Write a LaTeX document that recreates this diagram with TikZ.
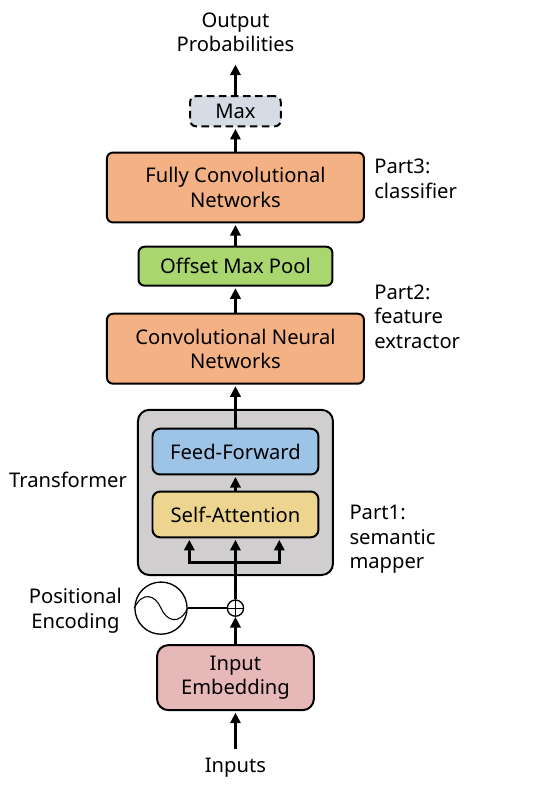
\documentclass[tikz,border=0pt]{standalone}
\usepackage{fontspec}
\setmainfont{Noto Sans}
\usepackage{xcolor}
\usepackage{tikz}
\usetikzlibrary{positioning, arrows.meta, backgrounds, calc}

\begin{document}
\begin{tikzpicture}[font=\fontsize{15.2}{18.4}\selectfont, >={Triangle[length=2.8mm, width=2.7mm]},
  base/.style={draw=black, line width=1.5pt, rounded corners=1.6mm, align=center, inner sep=0pt},
  conv/.style={base, fill=convcol, minimum width=68mm, minimum height=18.5mm},
  block/.style={base, rounded corners=2mm, minimum width=43.9mm, minimum height=12.1mm},
  label/.style={align=left, inner sep=0pt},
  flow/.style={->, line width=2.4pt, shorten >=.4mm}]
  \definecolor{convcol}{HTML}{F4B183}
  \definecolor{embedcol}{HTML}{E6B8B7}
  \definecolor{poolcol}{HTML}{A9D66E}
  \definecolor{maxcol}{HTML}{D6DCE5}
  \definecolor{transcol}{HTML}{D0CECE}
  \definecolor{ffcol}{HTML}{9DC3E6}
  \definecolor{sacol}{HTML}{EDD58F}
  \useasboundingbox (-62.3mm,-29.2mm) rectangle (83.75mm,179.3mm);
  % bottom of the stack
  \node[base, rounded corners=3mm, fill=embedcol, minimum width=41.5mm, minimum height=17.2mm] (embed) at (0,0) {Input\\ Embedding};
  \node[label, below=12.3mm of embed] (inputs) {Inputs};
  \node[draw=black, line width=1pt, circle, minimum size=4.3mm, inner sep=0pt, above=7.2mm of embed] (plus) {};
  \node[draw=black, line width=1pt, circle, minimum size=13.8mm, inner sep=0pt, left=10.3mm of plus] (sine) {};
  \node[label, left=3.2mm of sine, align=center, yshift=-.7mm] (posenc) {Positional\\ Encoding};
  % transformer
  \node[block, fill=sacol, above=16.15mm of plus] (sa) {Self-Attention};
  \node[block, fill=ffcol, above=4mm of sa] (ff) {Feed-Forward};
  \begin{scope}[on background layer]
    \node[base, fill=transcol, rounded corners=3mm, minimum width=51.6mm, minimum height=43.7mm, anchor=north] (trans) at ($(ff.north)+(0,5mm)$) {};
  \end{scope}
  % upper stack
  \node[conv, above=6.4mm of trans.north] (cnn) {Convolutional Neural\\ Networks};
  \node[base, fill=poolcol, minimum width=51.3mm, minimum height=10.3mm, above=6.9mm of cnn] (pool) {Offset Max Pool};
  \node[conv, above=5.9mm of pool] (fcn) {Fully Convolutional\\ Networks};
  \node[base, dashed, dash pattern=on 2mm off 1.2mm, fill=maxcol, minimum width=24mm, minimum height=8mm, above=6.4mm of fcn] (max) {Max};
  \node[label, above=11.3mm of max, align=center] (output) {Output\\ Probabilities};
  % side labels
  \node[label, right=2.4mm of fcn.north east, yshift=-7.2mm] (part3) {Part3:\\ classifier};
  \node[label, right=2.4mm of cnn.north east, yshift=-1mm] (part2) {Part2:\\ feature\\ extractor};
  \node[label, right=7.9mm of sa.south east, yshift=-.3mm] (part1) {Part1:\\ semantic\\ mapper};
  \node[label, left=2.6mm of trans.west, yshift=3.3mm] (translabel) {Transformer};
  % edges
  \draw[flow, shorten <=2.4mm] (inputs) -- (embed);
  \draw[flow, shorten >=0mm] (embed) -- (plus);
  \draw[flow] (plus) -- (sa);
  \coordinate (tap) at ($(sa.south)+(0,-6.3mm)$);
  \coordinate (tapl) at ($(sa.south)+(-12.2mm,0)$);
  \coordinate (tapr) at ($(sa.south)+(11.6mm,0)$);
  \draw[flow] (tap) -| (tapl);
  \draw[flow] (tap) -| (tapr);
  \draw[flow] (sa) -- (ff);
  \draw[flow] (ff) -- (cnn);
  \draw[flow] (cnn) -- (pool);
  \draw[flow] (pool) -- (fcn);
  \draw[flow] (fcn) -- (max);
  \draw[flow, shorten >=3.2mm] (max) -- (output);
  \draw[line width=1.5pt] (sine) -- (plus);
  % symbols inside the circles
  \draw[line width=.6pt] (plus.north) -- (plus.south) (plus.west) -- (plus.east);
  \draw[line width=.8pt] (sine.west) .. controls ($(sine.west)+(2.2mm,4.6mm)$) and ($(sine.center)+(-1.5mm,3.5mm)$) .. (sine.center)
    .. controls ($(sine.center)+(1.5mm,-3.5mm)$) and ($(sine.east)+(-2.2mm,-4.6mm)$) .. (sine.east);
\end{tikzpicture}
\end{document}
